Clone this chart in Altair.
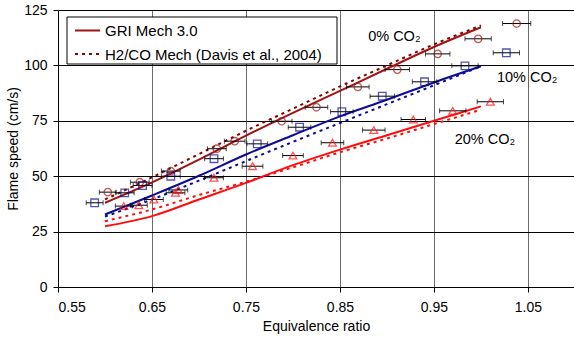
import altair as alt
import pandas as pd

# ---- model curves (equivalence ratio vs flame speed) ----
phi_line = [0.60, 0.65, 0.70, 0.75, 0.80, 0.85, 0.90, 0.95, 1.00]
gri_0 = [38.0, 47.2, 57.5, 68.3, 78.6, 88.5, 98.5, 108.3, 117.2]
davis_0 = [39.5, 49.5, 60.0, 70.5, 80.5, 90.5, 100.0, 109.5, 118.0]
gri_10 = [32.7, 41.3, 50.2, 59.8, 68.5, 77.0, 84.5, 92.3, 99.6]
davis_10 = [31.8, 39.5, 48.0, 56.8, 65.5, 74.0, 82.5, 91.0, 99.6]
gri_20 = [27.4, 32.0, 39.5, 47.0, 55.0, 62.0, 68.5, 75.0, 81.5]
davis_20 = [29.7, 35.0, 41.5, 47.5, 54.0, 60.8, 67.0, 73.5, 80.0]

# ---- measurements ----
exp0_phi = [0.603, 0.637, 0.670, 0.719, 0.738, 0.788, 0.825, 0.869, 0.911, 0.954, 0.997, 1.038]
exp0_sl = [42.8, 47.3, 52.3, 62.4, 65.8, 74.8, 81.1, 90.3, 98.1, 105.2, 112.0, 118.9]
exp0_err = [0.009, 0.010, 0.010, 0.010, 0.011, 0.011, 0.012, 0.012, 0.013, 0.013, 0.014, 0.015]

exp10_phi = [0.589, 0.621, 0.640, 0.670, 0.716, 0.762, 0.807, 0.852, 0.895, 0.940, 0.983, 1.027]
exp10_sl = [38.0, 42.5, 45.8, 50.0, 57.9, 64.6, 72.1, 79.1, 86.1, 92.6, 99.8, 105.7]
exp10_err = [0.009, 0.010, 0.010, 0.010, 0.010, 0.011, 0.012, 0.012, 0.013, 0.013, 0.014, 0.014]

exp20_phi = [0.620, 0.636, 0.652, 0.675, 0.678, 0.716, 0.757, 0.800, 0.842, 0.886, 0.928, 0.970, 1.010]
exp20_sl = [36.5, 36.9, 39.5, 42.5, 43.8, 49.3, 54.5, 59.3, 65.1, 70.8, 75.6, 79.5, 83.6]
exp20_err = [0.009, 0.009, 0.010, 0.010, 0.010, 0.010, 0.011, 0.011, 0.012, 0.012, 0.013, 0.014, 0.014]

x_ticks = [0.55, 0.65, 0.75, 0.85, 0.95, 1.05]
y_ticks = [0, 25, 50, 75, 100, 125]

series_labels = ["0% CO\u2082", "10% CO\u2082", "20% CO\u2082"]
label_phi = [0.880, 1.017, 0.972]
label_sl = [113.0, 94.5, 66.5]

legend_names = ["GRI Mech 3.0", "H2/CO Mech (Davis et al., 2004)"]

C0 = "#a01414"
C0D = "#8a0000"
C10 = "#0c0c96"
C20 = "#ff0d0d"
FONT = "Liberation Sans"

xs = alt.Scale(domain=[0.55, 1.099], nice=False, zero=False)
ys = alt.Scale(domain=[0, 125], nice=False)

rows = []
for name, vals, mech in [("0", gri_0, "gri"), ("0", davis_0, "davis"),
                         ("10", gri_10, "gri"), ("10", davis_10, "davis"),
                         ("20", gri_20, "gri"), ("20", davis_20, "davis")]:
    for p, v in zip(phi_line, vals):
        rows.append({"phi": p, "sl": v, "series": name, "mech": mech, "key": name + mech})
lines_df = pd.DataFrame(rows)

pts = []
for name, ph, sl, er in [("0", exp0_phi, exp0_sl, exp0_err),
                         ("10", exp10_phi, exp10_sl, exp10_err),
                         ("20", exp20_phi, exp20_sl, exp20_err)]:
    for p, s, e in zip(ph, sl, er):
        pts.append({"phi": p, "sl": s, "lo": p - e, "hi": p + e, "series": name})
pts_df = pd.DataFrame(pts)

X = alt.X("phi:Q", scale=xs, axis=alt.Axis(
    values=x_ticks, format=".2f", title="Equivalence ratio", grid=True,
    gridColor="#6a6a6a", gridWidth=1, domainColor="#000", tickColor="#000",
    tickSize=5, labelPadding=8, titlePadding=5))
Y = alt.Y("sl:Q", scale=ys, axis=alt.Axis(
    values=y_ticks, title="Flame speed (cm/s)", grid=True, gridColor="#000",
    gridWidth=1, domainColor="#000", tickColor="#000", tickSize=5,
    labelPadding=6, titlePadding=3))

color_scale = alt.Scale(domain=["0gri", "0davis", "10gri", "10davis", "20gri", "20davis"],
                        range=[C0, C0D, C10, C10, C20, C20])

solid = alt.Chart(lines_df).transform_filter(alt.datum.mech == "gri").mark_line(
    strokeWidth=2, interpolate="monotone").encode(
    x=X, y=Y, detail="key:N",
    color=alt.Color("key:N", scale=color_scale, legend=None))
dashed = alt.Chart(lines_df).transform_filter(alt.datum.mech == "davis").mark_line(
    strokeWidth=2, strokeDash=[3, 4], interpolate="monotone").encode(
    x="phi:Q", y="sl:Q", detail="key:N",
    color=alt.Color("key:N", scale=color_scale, legend=None))

err = alt.Chart(pts_df).mark_rule(color="#000", strokeWidth=1).encode(
    x="lo:Q", x2="hi:Q", y="sl:Q")
cap_lo = alt.Chart(pts_df).mark_tick(color="#000", thickness=1, size=5, orient="vertical").encode(
    x="lo:Q", y="sl:Q")
cap_hi = alt.Chart(pts_df).mark_tick(color="#000", thickness=1, size=5, orient="vertical").encode(
    x="hi:Q", y="sl:Q")

shape_scale = alt.Scale(domain=["0", "10", "20"], range=["circle", "square", "triangle-up"])
stroke_scale = alt.Scale(domain=["0", "10", "20"], range=[C0, C10, C20])
size_scale = alt.Scale(domain=["0", "10", "20"], range=[55, 60, 85])
points = alt.Chart(pts_df).mark_point(filled=False, strokeWidth=1.3).encode(
    x="phi:Q", y="sl:Q",
    shape=alt.Shape("series:N", scale=shape_scale, legend=None),
    stroke=alt.Stroke("series:N", scale=stroke_scale, legend=None),
    size=alt.Size("series:N", scale=size_scale, legend=None))

lab_df = pd.DataFrame({"t": series_labels, "phi": label_phi, "sl": label_sl})
labels = alt.Chart(lab_df).mark_text(align="left", baseline="middle", font=FONT,
                                      fontSize=14.5, color="#000").encode(
    x="phi:Q", y="sl:Q", text="t:N")

# legend box (drawn in pixel space)
leg_box = alt.Chart(pd.DataFrame({"a": [0]})).mark_rect(
    fill="#fff", stroke="#000", strokeWidth=1).encode(
    x=alt.value(9), x2=alt.value(279), y=alt.value(7), y2=alt.value(54))
leg_solid = alt.Chart(pd.DataFrame({"a": [0]})).mark_rule(color=C0, strokeWidth=2).encode(
    x=alt.value(17), x2=alt.value(42), y=alt.value(20.5))
leg_dash = alt.Chart(pd.DataFrame({"a": [0]})).mark_rule(color=C0D, strokeWidth=2, strokeDash=[3, 4]).encode(
    x=alt.value(17), x2=alt.value(42), y=alt.value(44))
leg_t1 = alt.Chart(pd.DataFrame({"t": [legend_names[0]]})).mark_text(
    align="left", baseline="middle", font=FONT, fontSize=15, color="#000").encode(
    x=alt.value(47), y=alt.value(21), text="t:N")
leg_t2 = alt.Chart(pd.DataFrame({"t": [legend_names[1]]})).mark_text(
    align="left", baseline="middle", font=FONT, fontSize=15, color="#000").encode(
    x=alt.value(47), y=alt.value(44.5), text="t:N")

chart = alt.layer(
    solid, dashed, err, cap_lo, cap_hi, points, labels,
    leg_box, leg_solid, leg_dash, leg_t1, leg_t2
).properties(
    width=516, height=277,
    padding={"left": 58, "top": 10, "right": 0, "bottom": 50},
    autosize=alt.AutoSizeParams(type="none"),
    background="#ffffff",
).configure_view(stroke=None).configure_axis(
    labelFont=FONT, titleFont=FONT, labelFontSize=14, titleFontSize=14,
    titleFontWeight="normal", labelColor="#000", titleColor="#000",
)

chart.save("out.html", embed_options={"renderer": "svg", "actions": False})
